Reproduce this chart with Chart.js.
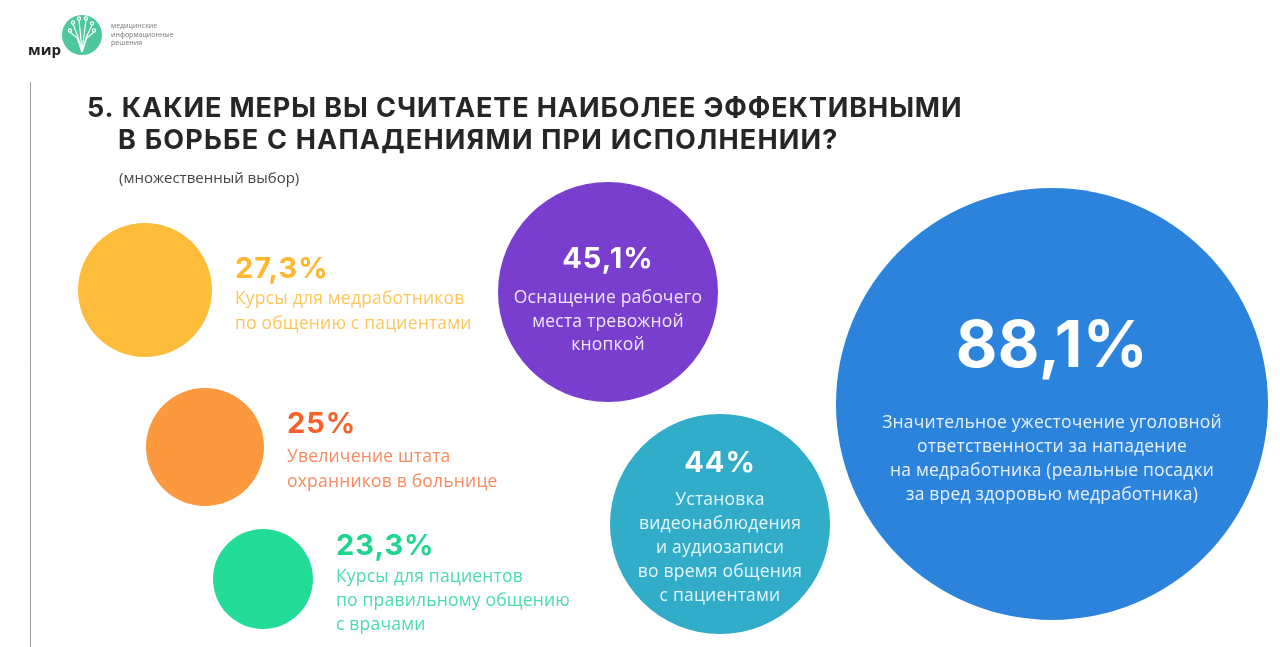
<!DOCTYPE html>
<html>
<head>
<meta charset="utf-8">
<title>Меры против нападений на медработников</title>
<script src="https://cdn.jsdelivr.net/npm/chart.js"></script>
<style>
  html, body { margin: 0; padding: 0; background: #fff; }
  #wrap { position: relative; width: 1280px; height: 647px; }
</style>
</head>
<body>
<div id="wrap"><canvas id="bubbleChart"></canvas></div>
<script>
// share of respondents, %
var values = [27.3, 25, 23.3, 45.1, 44, 88.1];
var categories = [
  ['Курсы для медработников', 'по общению с пациентами'],
  ['Увеличение штата', 'охранников в больнице'],
  ['Курсы для пациентов', 'по правильному общению', 'с врачами'],
  ['Оснащение рабочего', 'места тревожной', 'кнопкой'],
  ['Установка', 'видеонаблюдения', 'и аудиозаписи', 'во время общения', 'с пациентами'],
  ['Значительное ужесточение уголовной', 'ответственности за нападение',
   'на медработника (реальные посадки', 'за вред здоровью медработника)']
];
var titleLines = ['5. КАКИЕ МЕРЫ ВЫ СЧИТАЕТЕ НАИБОЛЕЕ ЭФФЕКТИВНЫМИ', 'В БОРЬБЕ С НАПАДЕНИЯМИ ПРИ ИСПОЛНЕНИИ?'];
var subtitle = '(множественный выбор)';
var logoLines = ['медицинские', 'информационные', 'решения'];

// layout (page pixels): bubble centres, radii, colours
var posX = [145, 205, 263, 608, 720, 1052];
var posY = [290, 447, 579, 292, 524, 404];
var radii = [67, 59, 50, 110, 110, 216];
var fillColors = ['#FDBD3A', '#FC983D', '#22DC98', '#7A3ECF', '#31ADCA', '#2C83DB'];
var pctColors = ['#FDB82E', '#F4612B', '#20D590', '#FFFFFF', '#FFFFFF', '#FFFFFF'];
var textColors = ['#FCC75A', '#F78A5F', '#4ADDA6', '#EEE6FA', '#E8F6FA', '#E8F1FC'];
// label placement: side text or centred text, offsets from centre
var labelSide = [true, true, true, false, false, false];
var pctDy = [-12, -14, -24, -24, -52, -37];
var lineDy = [14, 15, 3, 11, -19, 24];
var lineGap = [25, 25, 24, 23.5, 24, 24];
var pctSize = [29, 29, 29, 29, 29, 64];

var points = [];
for (var i = 0; i < values.length; i++) {
  points.push({ x: posX[i], y: posY[i], v: values[i] });
}

function fmtPct(v) {
  return String(v).replace('.', ',') + '%';
}

var labelPlugin = {
  id: 'labels',
  afterDatasetsDraw: function(chart) {
    var ctx = chart.ctx;
    ctx.save();

    // frame line on the left
    ctx.strokeStyle = '#9a9a9a';
    ctx.lineWidth = 1;
    ctx.beginPath();
    ctx.moveTo(30.5, 82);
    ctx.lineTo(30.5, 647);
    ctx.stroke();

    // logo
    ctx.fillStyle = '#4DC79B';
    ctx.beginPath();
    ctx.arc(82, 35, 20, 0, Math.PI * 2);
    ctx.fill();
    ctx.strokeStyle = '#fff';
    ctx.lineWidth = 1.2;
    var branches = [[-9, -11], [-3, -15], [4, -15], [10, -10], [-12, -3], [12, -3]];
    branches.forEach(function(b) {
      ctx.beginPath();
      ctx.moveTo(82, 52);
      ctx.lineTo(82 + b[0] * 0.4, 38);
      ctx.lineTo(82 + b[0], 35 + b[1]);
      ctx.stroke();
      ctx.beginPath();
      ctx.arc(82 + b[0], 35 + b[1] - 1.5, 1.6, 0, Math.PI * 2);
      ctx.stroke();
    });
    ctx.fillStyle = '#222';
    ctx.font = 'bold 15px "Open Sans"';
    ctx.textAlign = 'left';
    ctx.textBaseline = 'alphabetic';
    ctx.fillText('мир', 28, 55);
    ctx.fillStyle = '#777';
    ctx.font = '7px "Open Sans"';
    logoLines.forEach(function(t, k) {
      ctx.fillText(t, 111, 28 + k * 8.5);
    });

    // title
    ctx.fillStyle = '#262626';
    ctx.font = 'bold 27px Inter';
    ctx.letterSpacing = '0.9px';
    ctx.fillText(titleLines[0], 87, 117);
    ctx.letterSpacing = '1.2px';
    ctx.fillText(titleLines[1], 118, 149);
    ctx.letterSpacing = '0px';
    ctx.fillStyle = '#444';
    ctx.font = '15px "Open Sans"';
    ctx.fillText(subtitle, 119, 183);

    // bubble labels
    var meta = chart.getDatasetMeta(0);
    meta.data.forEach(function(el, i) {
      var x, align;
      if (labelSide[i]) {
        x = el.x + radii[i] + 23;
        align = 'left';
      } else {
        x = el.x;
        align = 'center';
      }
      ctx.textAlign = align;
      ctx.fillStyle = pctColors[i];
      ctx.font = 'bold ' + pctSize[i] + 'px Inter';
      ctx.letterSpacing = pctSize[i] > 40 ? '0.5px' : '1px';
      ctx.fillText(fmtPct(values[i]), x, el.y + pctDy[i]);
      ctx.fillStyle = textColors[i];
      ctx.font = '17.5px "Open Sans"';
      ctx.letterSpacing = '0.2px';
      categories[i].forEach(function(line, k) {
        ctx.fillText(line, x, el.y + lineDy[i] + k * lineGap[i]);
      });
    });
    ctx.restore();
  }
};

var ctx = document.getElementById('bubbleChart').getContext('2d');
var chart = new Chart(ctx, {
  type: 'bubble',
  data: {
    datasets: [{
      data: points,
      backgroundColor: fillColors,
      borderWidth: 0,
      radius: function(c) { return radii[c.dataIndex]; },
      hoverRadius: 0,
      clip: false
    }]
  },
  options: {
    responsive: true,
    maintainAspectRatio: false,
    animation: false,
    events: [],
    layout: { padding: 0, autoPadding: false },
    plugins: { legend: { display: false }, tooltip: { enabled: false } },
    scales: {
      x: { type: 'linear', display: false, min: 0, max: 1280 },
      y: { type: 'linear', display: false, min: 0, max: 647, reverse: true }
    }
  },
  plugins: [labelPlugin]
});
</script>
</body>
</html>
